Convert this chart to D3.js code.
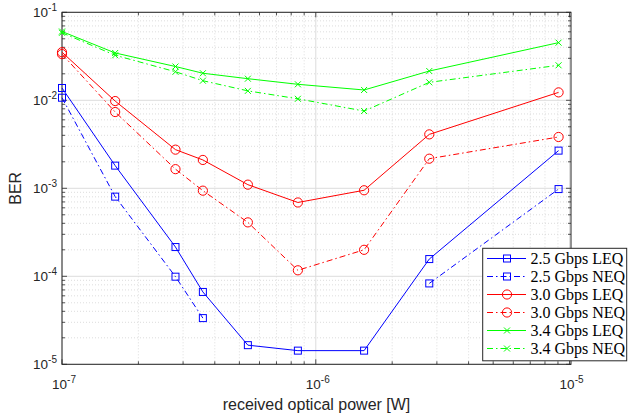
<!DOCTYPE html>
<html>
<head>
<meta charset="utf-8">
<script src="https://cdn.jsdelivr.net/npm/d3@7"></script>
<style>
  body { margin: 0; background: #fff; }
  svg { display: block; }
</style>
</head>
<body>
<div id="chart"></div>
<script>
// received optical power [W]
var powers = [1.0e-7, 1.62e-7, 2.8e-7, 3.59e-7, 5.4e-7, 8.5e-7, 1.55e-6, 2.8e-6, 9.05e-6];

var ber_25_leq = [0.0138, 0.00181, 0.000215, 6.64e-5, 1.65e-5, 1.43e-5, 1.43e-5, 0.000157, 0.00268];
var ber_25_neq = [0.0107, 0.000804, 9.9e-5, 3.35e-5, null, null, null, 8.3e-5, 0.00098];
var ber_30_leq = [0.0352, 0.0098, 0.00275, 0.0021, 0.0011, 0.00069, 0.00095, 0.0041, 0.0123];
var ber_30_neq = [0.0335, 0.00736, 0.00165, 0.00094, 0.00041, 0.000117, 0.0002, 0.00217, 0.00383];
var ber_34_leq = [0.0605, 0.0345, 0.0242, 0.0203, 0.0176, 0.0152, 0.0131, 0.0215, 0.0452];
var ber_34_neq = [0.0585, 0.0325, 0.0211, 0.0167, 0.0128, 0.0104, 0.00755, 0.016, 0.025];

var series = [
  { name: '2.5 Gbps LEQ', values: ber_25_leq, color: '#0000ff', dash: null, marker: 'square' },
  { name: '2.5 Gbps NEQ', values: ber_25_neq, color: '#0000ff', dash: '6,3,1.5,3', marker: 'square' },
  { name: '3.0 Gbps LEQ', values: ber_30_leq, color: '#ff0000', dash: null, marker: 'circle' },
  { name: '3.0 Gbps NEQ', values: ber_30_neq, color: '#ff0000', dash: '6,3,1.5,3', marker: 'circle' },
  { name: '3.4 Gbps LEQ', values: ber_34_leq, color: '#00ff00', dash: null, marker: 'cross' },
  { name: '3.4 Gbps NEQ', values: ber_34_neq, color: '#00ff00', dash: '6,3,1.5,3', marker: 'cross' }
];

var x_decades = [-7, -6, -5];
var y_decades = [-5, -4, -3, -2, -1];

function ber_chart() {
    var width = 628, height = 417;
    var plot = { left: 62, right: 571, top: 12.3, bottom: 364.3 };
    var axis_color = '#262626';

    var svg = d3.select('#chart')
        .append('svg')
        .attr('width', width)
        .attr('height', height);

    var x = d3.scaleLog().domain([1e-7, 1.013e-5]).range([plot.left, plot.right]);
    var y = d3.scaleLog().domain([1e-5, 1e-1]).range([plot.bottom, plot.top]);

    // all 1..9 multiples inside the domain
    var x_ticks = x.ticks().filter(d => d >= 1e-7 * 0.999 && d <= 1.013e-5);
    var y_ticks = y.ticks();
    var is_major = d => Math.abs(Math.log10(d) - Math.round(Math.log10(d))) < 1e-6;

    // grid
    var grid = svg.append('g');
    grid.selectAll('.xminor')
        .data(x_ticks.filter(d => !is_major(d)))
        .enter().append('line')
        .attr('x1', d => x(d)).attr('x2', d => x(d))
        .attr('y1', plot.top).attr('y2', plot.bottom)
        .attr('stroke', '#d4d4d4').attr('stroke-width', 0.8)
        .attr('stroke-dasharray', '1,2');
    grid.selectAll('.yminor')
        .data(y_ticks.filter(d => !is_major(d)))
        .enter().append('line')
        .attr('y1', d => y(d)).attr('y2', d => y(d))
        .attr('x1', plot.left).attr('x2', plot.right)
        .attr('stroke', '#d4d4d4').attr('stroke-width', 0.8)
        .attr('stroke-dasharray', '1,2');
    grid.selectAll('.xmajor')
        .data(x_ticks.filter(is_major))
        .enter().append('line')
        .attr('x1', d => x(d)).attr('x2', d => x(d))
        .attr('y1', plot.top).attr('y2', plot.bottom)
        .attr('stroke', '#dcdcdc').attr('stroke-width', 1);
    grid.selectAll('.ymajor')
        .data(y_ticks.filter(is_major))
        .enter().append('line')
        .attr('y1', d => y(d)).attr('y2', d => y(d))
        .attr('x1', plot.left).attr('x2', plot.right)
        .attr('stroke', '#dcdcdc').attr('stroke-width', 1);

    // axes with inward ticks on all four sides
    function tick_len(d) { return is_major(d) ? 5 : 3; }
    var ticks = svg.append('g').attr('stroke', axis_color).attr('stroke-width', 0.8);
    x_ticks.forEach(function(d) {
        ticks.append('line').attr('x1', x(d)).attr('x2', x(d))
            .attr('y1', plot.bottom).attr('y2', plot.bottom - tick_len(d));
        ticks.append('line').attr('x1', x(d)).attr('x2', x(d))
            .attr('y1', plot.top).attr('y2', plot.top + tick_len(d));
    });
    y_ticks.forEach(function(d) {
        ticks.append('line').attr('y1', y(d)).attr('y2', y(d))
            .attr('x1', plot.left).attr('x2', plot.left + tick_len(d));
        ticks.append('line').attr('y1', y(d)).attr('y2', y(d))
            .attr('x1', plot.right).attr('x2', plot.right - tick_len(d));
    });
    svg.append('rect')
        .attr('x', plot.left).attr('y', plot.top)
        .attr('width', plot.right - plot.left)
        .attr('height', plot.bottom - plot.top)
        .attr('fill', 'none')
        .attr('stroke', axis_color)
        .attr('stroke-width', 1);

    // tick labels
    var font = '"Liberation Sans", Arial, sans-serif';
    var xl = svg.append('g').selectAll('text')
        .data(x_decades).enter().append('text')
        .attr('x', d => x(Math.pow(10, d)) + 2)
        .attr('y', plot.bottom + 25)
        .attr('text-anchor', 'middle')
        .attr('font-family', font).attr('font-size', 13.5)
        .attr('fill', axis_color);
    xl.append('tspan').text('10');
    xl.append('tspan').attr('dy', -6).attr('font-size', 10).text(d => '-' + Math.abs(d));

    var yl = svg.append('g').selectAll('text')
        .data(y_decades).enter().append('text')
        .attr('x', plot.left - 5)
        .attr('y', d => y(Math.pow(10, d)) + 5)
        .attr('text-anchor', 'end')
        .attr('font-family', font).attr('font-size', 13.5)
        .attr('fill', axis_color);
    yl.append('tspan').text('10');
    yl.append('tspan').attr('dy', -6).attr('font-size', 10).text(d => '-' + Math.abs(d));

    // axis titles
    svg.append('text')
        .attr('x', (plot.left + plot.right) / 2)
        .attr('y', 410)
        .attr('text-anchor', 'middle')
        .attr('font-family', font).attr('font-size', 16)
        .attr('fill', axis_color)
        .text('received optical power [W]');
    svg.append('text')
        .attr('transform', `translate(21, ${(plot.top + plot.bottom) / 2}) rotate(-90)`)
        .attr('text-anchor', 'middle')
        .attr('font-family', font).attr('font-size', 16)
        .attr('fill', axis_color)
        .text('BER');

    // markers
    function draw_marker(g, kind, cx, cy, color) {
        if (kind === 'square') {
            g.append('rect').attr('x', cx - 3.5).attr('y', cy - 3.5)
                .attr('width', 7).attr('height', 7)
                .attr('fill', 'none').attr('stroke', color).attr('stroke-width', 1);
        } else if (kind === 'circle') {
            g.append('circle').attr('cx', cx).attr('cy', cy).attr('r', 4.6)
                .attr('fill', 'none').attr('stroke', color).attr('stroke-width', 1);
        } else {
            var s = 3;
            g.append('path')
                .attr('d', `M${cx - s},${cy - s}L${cx + s},${cy + s}M${cx - s},${cy + s}L${cx + s},${cy - s}`)
                .attr('stroke', color).attr('stroke-width', 1);
        }
    }

    var line = d3.line()
        .defined(d => d[1] !== null)
        .x(d => x(d[0]))
        .y(d => y(d[1]));

    var lines_g = svg.append('g');
    series.forEach(function(s) {
        var pts = powers.map((p, i) => [p, s.values[i]]);
        lines_g.append('path')
            .attr('d', line(pts))
            .attr('fill', 'none')
            .attr('stroke', s.color)
            .attr('stroke-width', 1)
            .attr('stroke-dasharray', s.dash);
        var mg = lines_g.append('g');
        pts.filter(d => d[1] !== null).forEach(function(d) {
            draw_marker(mg, s.marker, x(d[0]), y(d[1]), s.color);
        });
    });

    // legend
    var legend = svg.append('g');
    legend.append('rect')
        .attr('x', 482.7).attr('y', 248.3)
        .attr('width', 144).attr('height', 112.5)
        .attr('fill', '#fff')
        .attr('stroke', axis_color).attr('stroke-width', 1);
    var row = 18;
    series.forEach(function(s, i) {
        var ly = 258.5 + i * row;
        legend.append('line')
            .attr('x1', 487).attr('x2', 526)
            .attr('y1', ly).attr('y2', ly)
            .attr('stroke', s.color).attr('stroke-width', 1)
            .attr('stroke-dasharray', s.dash);
        draw_marker(legend, s.marker, 507, ly, s.color);
        legend.append('text')
            .attr('x', 530.5).attr('y', ly + 5)
            .attr('font-family', '"Liberation Serif", "Times New Roman", serif')
            .attr('font-size', 16)
            .attr('fill', '#000')
            .text(s.name);
    });
}

document.addEventListener('DOMContentLoaded', ber_chart);
</script>
</body>
</html>
